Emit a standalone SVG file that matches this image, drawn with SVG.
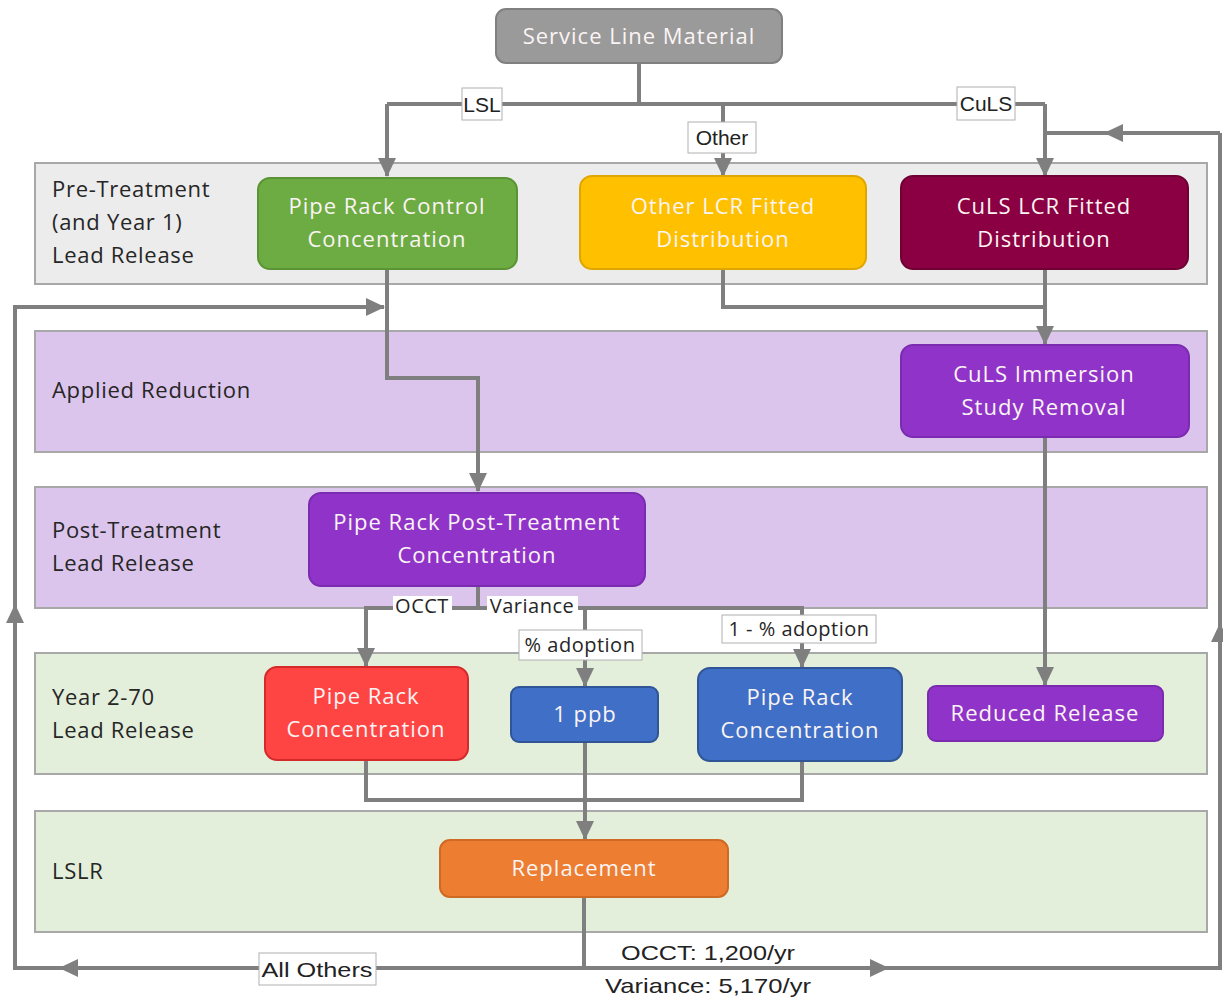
<svg xmlns="http://www.w3.org/2000/svg" width="1223" height="997" viewBox="0 0 1223 997">
<style>
.lane{stroke:#a8a8a8;stroke-width:2}
.ll{font-family:"Open Sans","Noto Sans",sans-serif;font-size:22px;letter-spacing:0.7px;fill:#262626}
.nt{font-family:"Open Sans","Noto Sans",sans-serif;font-size:22px;letter-spacing:1px;fill:#fbf4f4;text-anchor:middle}
.c{fill:none;stroke:#7f7f7f;stroke-width:4}
.lb{fill:#fff;stroke:#b0b0b0;stroke-width:1}
.lt{font-family:"Liberation Sans",Arial,sans-serif;font-size:21px;fill:#222;text-anchor:middle}
.st{font-family:"Open Sans","Noto Sans",sans-serif;font-size:20px;letter-spacing:0.5px;fill:#262626;text-anchor:middle}
</style>
<defs>
<marker id="ah" markerUnits="userSpaceOnUse" markerWidth="20" markerHeight="20" viewBox="0 0 20 20" refX="18" refY="10" orient="auto">
<path d="M0,1 L19,10 L0,19 Z" fill="#7f7f7f"/>
</marker>
</defs>
<rect width="1223" height="997" fill="#fff"/>

<g id="lanes">
<rect class="lane" x="35" y="163" width="1172" height="121" fill="#ececec"/>
<rect class="lane" x="35" y="331" width="1172" height="121" fill="#dcc5ec"/>
<rect class="lane" x="35" y="487" width="1172" height="121" fill="#dcc5ec"/>
<rect class="lane" x="35" y="653" width="1172" height="121" fill="#e3efda"/>
<rect class="lane" x="35" y="811" width="1172" height="121" fill="#e3efda"/>
<text class="ll" x="52" y="197">Pre-Treatment</text>
<text class="ll" x="52" y="230">(and Year 1)</text>
<text class="ll" x="52" y="263">Lead Release</text>
<text class="ll" x="52" y="398">Applied Reduction</text>
<text class="ll" x="52" y="538">Post-Treatment</text>
<text class="ll" x="52" y="571">Lead Release</text>
<text class="ll" x="52" y="705">Year 2-70</text>
<text class="ll" x="52" y="738">Lead Release</text>
<text class="ll" x="52" y="879">LSLR</text>
</g>

<g id="connectors">
<path class="c" d="M639,63 V104"/>
<path class="c" d="M387,104 H1045"/>
<path class="c" d="M387,104 V176" marker-end="url(#ah)"/>
<path class="c" d="M723,104 V176" marker-end="url(#ah)"/>
<path class="c" d="M1045,104 V176" marker-end="url(#ah)"/>
<path class="c" d="M1220,133 H1105" marker-end="url(#ah)"/>
<path class="c" d="M1110,133 H1045"/>
<path class="c" d="M387,269 V378 H478 V491" marker-end="url(#ah)"/>
<path class="c" d="M723,269 V307 H1045"/>
<path class="c" d="M1045,269 V344" marker-end="url(#ah)"/>
<path class="c" d="M1045,437 V685" marker-end="url(#ah)"/>
<path class="c" d="M478,586 V608"/>
<path class="c" d="M478,608 H366 V666" marker-end="url(#ah)"/>
<path class="c" d="M478,608 H802 V667" marker-end="url(#ah)"/>
<path class="c" d="M585,608 V686" marker-end="url(#ah)"/>
<path class="c" d="M366,760 V800 H802 V761"/>
<path class="c" d="M585,742 V839" marker-end="url(#ah)"/>
<path class="c" d="M584,897 V968"/>
<path class="c" d="M584,968 H60" marker-end="url(#ah)"/>
<path class="c" d="M65,968 H15 V605" marker-end="url(#ah)"/>
<path class="c" d="M15,612 V307 H384" marker-end="url(#ah)"/>
<path class="c" d="M584,968 H888" marker-end="url(#ah)"/>
<path class="c" d="M882,968 H1220 V624" marker-end="url(#ah)"/>
<path class="c" d="M1220,630 V133"/>
<rect class="lb" x="462" y="88" width="40" height="32"/>
<text class="lt" x="482" y="112">LSL</text>
<rect class="lb" x="688" y="122" width="68" height="31"/>
<text class="lt" x="722" y="145">Other</text>
<rect class="lb" x="957" y="87" width="58" height="33"/>
<text class="lt" x="986" y="111">CuLS</text>
<rect fill="#fff" x="393" y="596" width="59" height="20"/>
<text class="st" x="422" y="613">OCCT</text>
<rect fill="#fff" x="487" y="596" width="91" height="20"/>
<text class="st" x="532" y="613">Variance</text>
<rect class="lb" x="519" y="630" width="123" height="30" stroke="#f0f0f0"/>
<text class="st" x="580" y="652">% adoption</text>
<rect class="lb" x="722" y="615" width="154" height="28" stroke="#f0f0f0"/>
<text class="st" x="799" y="636">1 - % adoption</text>
<rect class="lb" x="259" y="953" width="117" height="32"/>
<text class="lt" x="317" y="977" textLength="111" lengthAdjust="spacingAndGlyphs">All Others</text>
<text class="lt" x="708" y="960" font-size="22" textLength="174" lengthAdjust="spacingAndGlyphs">OCCT: 1,200/yr</text>
<text class="lt" x="708" y="993" font-size="22" textLength="206" lengthAdjust="spacingAndGlyphs">Variance: 5,170/yr</text>
</g>

<g id="service-line-material">
<rect x="496" y="9" width="286" height="54" rx="10" fill="#9a9a9a" stroke="#808080" stroke-width="2"/>
<text class="nt" x="639" y="44">Service Line Material</text>
</g>
<g id="pipe-rack-control">
<rect x="258" y="178" width="259" height="91" rx="12" fill="#6dab43" stroke="#5a9434" stroke-width="2"/>
<text class="nt" x="387" y="214">Pipe Rack Control</text>
<text class="nt" x="387" y="247">Concentration</text>
</g>
<g id="other-lcr">
<rect x="580" y="176" width="286" height="93" rx="12" fill="#ffc000" stroke="#e0a600" stroke-width="2"/>
<text class="nt" x="723" y="214">Other LCR Fitted</text>
<text class="nt" x="723" y="247">Distribution</text>
</g>
<g id="culs-lcr">
<rect x="901" y="176" width="287" height="93" rx="12" fill="#8b0042" stroke="#6e0034" stroke-width="2"/>
<text class="nt" x="1044" y="214">CuLS LCR Fitted</text>
<text class="nt" x="1044" y="247">Distribution</text>
</g>
<g id="culs-immersion">
<rect x="901" y="345" width="288" height="92" rx="12" fill="#9034c9" stroke="#7a2bb0" stroke-width="2"/>
<text class="nt" x="1044" y="382">CuLS Immersion</text>
<text class="nt" x="1044" y="415">Study Removal</text>
</g>
<g id="pipe-rack-post">
<rect x="309" y="493" width="336" height="93" rx="12" fill="#9034c9" stroke="#7a2bb0" stroke-width="2"/>
<text class="nt" x="477" y="530">Pipe Rack Post-Treatment</text>
<text class="nt" x="477" y="563">Concentration</text>
</g>
<g id="pipe-rack-red">
<rect x="265" y="667" width="203" height="93" rx="12" fill="#ff4444" stroke="#d42a2a" stroke-width="2"/>
<text class="nt" x="366" y="704">Pipe Rack</text>
<text class="nt" x="366" y="737">Concentration</text>
</g>
<g id="one-ppb">
<rect x="511" y="687" width="147" height="55" rx="8" fill="#3f6fc6" stroke="#2f5597" stroke-width="2"/>
<text class="nt" x="585" y="722">1 ppb</text>
</g>
<g id="pipe-rack-blue">
<rect x="698" y="668" width="204" height="93" rx="12" fill="#3f6fc6" stroke="#2f5597" stroke-width="2"/>
<text class="nt" x="800" y="705">Pipe Rack</text>
<text class="nt" x="800" y="738">Concentration</text>
</g>
<g id="reduced-release">
<rect x="928" y="686" width="235" height="55" rx="8" fill="#9034c9" stroke="#7a2bb0" stroke-width="2"/>
<text class="nt" x="1045" y="721">Reduced Release</text>
</g>
<g id="replacement">
<rect x="440" y="840" width="288" height="57" rx="10" fill="#ed7d31" stroke="#cf6a22" stroke-width="2"/>
<text class="nt" x="584" y="876">Replacement</text>
</g>
</svg>
